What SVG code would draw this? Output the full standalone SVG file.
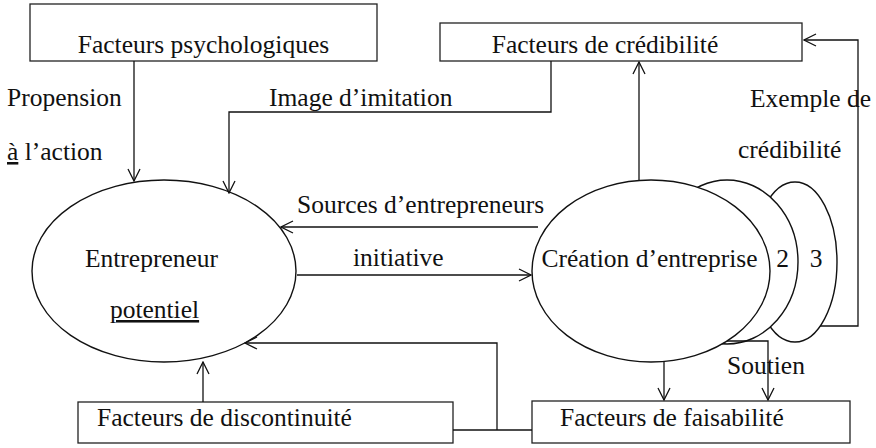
<svg xmlns="http://www.w3.org/2000/svg" width="876" height="448" viewBox="0 0 876 448">
<defs>
<style>
text{font-family:"Liberation Serif","Times New Roman",serif;font-size:25.5px;fill:#111}
.box{fill:#fff;stroke:#222;stroke-width:1.3}
.ell{fill:#fff;stroke:#111;stroke-width:1.4}
.ln{fill:none;stroke:#111;stroke-width:1.3}
.u{text-decoration:underline}
</style>
<marker id="ah" viewBox="0 0 14 14" refX="13" refY="7" markerWidth="14" markerHeight="14" markerUnits="userSpaceOnUse" orient="auto">
<path d="M1,1 L13,7 L1,13" fill="none" stroke="#111" stroke-width="1.3"/>
</marker>
</defs>
<rect width="876" height="448" fill="#fff"/>

<g id="psych">
<rect class="box" x="30" y="4" width="347" height="57"/>
<text x="203.5" y="53" text-anchor="middle">Facteurs psychologiques</text>
</g>

<g id="credibilite">
<rect class="box" x="440" y="23" width="362" height="38"/>
<text x="605" y="53" text-anchor="middle">Facteurs de crédibilité</text>
</g>

<g id="discontinuite">
<rect class="box" x="78" y="402" width="375" height="41"/>
<text x="97" y="426">Facteurs de discontinuité</text>
</g>

<g id="faisabilite">
<rect class="box" x="532" y="401" width="318" height="42"/>
<text x="560" y="426">Facteurs de faisabilité</text>
</g>

<g id="entrepreneur">
<ellipse class="ell" cx="164" cy="271" rx="132" ry="91"/>
<text x="151.5" y="267" text-anchor="middle">Entrepreneur</text>
<text x="154.5" y="318" text-anchor="middle" class="u">potentiel</text>
</g>

<g id="creation">
<ellipse class="ell" cx="795" cy="262" rx="42" ry="80"/>
<ellipse class="ell" cx="727" cy="262" rx="71" ry="82"/>
<ellipse class="ell" cx="651" cy="271" rx="119" ry="91"/>
<text x="649.5" y="267" text-anchor="middle">Création d’entreprise</text>
<text x="782.5" y="267" text-anchor="middle">2</text>
<text x="816" y="267" text-anchor="middle">3</text>
</g>

<g id="connectors">
<line class="ln" x1="134" y1="61" x2="134" y2="181" marker-end="url(#ah)"/>
<polyline class="ln" points="551,61 551,112 229,112 229,193" marker-end="url(#ah)"/>
<line class="ln" x1="538" y1="227" x2="281" y2="227" marker-end="url(#ah)"/>
<line class="ln" x1="297" y1="275" x2="531" y2="275" marker-end="url(#ah)"/>
<line class="ln" x1="639" y1="180" x2="639" y2="62" marker-end="url(#ah)"/>
<polyline class="ln" points="820,326 858,326 858,40 804,40" marker-end="url(#ah)"/>
<line class="ln" x1="203" y1="402" x2="203" y2="362" marker-end="url(#ah)"/>
<line class="ln" x1="453" y1="430" x2="532" y2="430"/>
<polyline class="ln" points="497,430 497,343 245,343" marker-end="url(#ah)"/>
<line class="ln" x1="664" y1="362" x2="664" y2="400" marker-end="url(#ah)"/>
<polyline class="ln" points="727,341 768,341 768,400" marker-end="url(#ah)"/>
</g>

<g id="labels">
<text x="7" y="106">Propension</text>
<text x="7" y="160"><tspan class="u">à</tspan> l’action</text>
<text x="269" y="106">Image d’imitation</text>
<text x="297" y="213">Sources d’entrepreneurs</text>
<text x="353" y="266">initiative</text>
<text x="750" y="107">Exemple de</text>
<text x="738" y="158">crédibilité</text>
<text x="727" y="374">Soutien</text>
</g>
</svg>
